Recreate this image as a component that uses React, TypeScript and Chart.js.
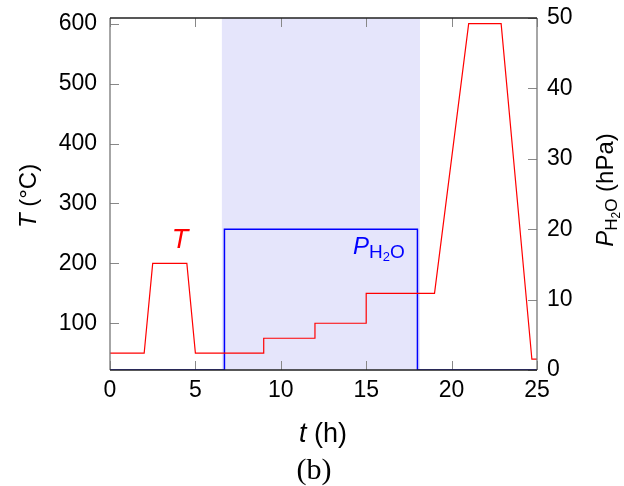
import React, { useEffect, useRef } from "react";
import { Chart, registerables } from "chart.js";

Chart.register(...registerables);

// Temperature profile T (°C) vs time t (h)
const tempTimes = [0, 2, 2.5, 4.5, 5, 9, 9, 12, 12, 15, 15, 19, 21, 22.9, 24.7, 25];
const tempValues = [50, 50, 200, 200, 50, 50, 75, 75, 100, 100, 150, 150, 600, 600, 40, 40];

// Water vapour partial pressure P_H2O (hPa) vs time t (h)
const pressTimes = [0, 6.7, 6.7, 18, 18, 25];
const pressValues = [0, 0, 20, 20, 0, 0];

// Shaded humid interval (h)
const shadeInterval = [6.55, 18.15];

const xTicks = [0, 5, 10, 15, 20, 25];
const leftTicks = [100, 200, 300, 400, 500, 600];
const rightTicks = [0, 10, 20, 30, 40, 50];

const SANS = "'Liberation Sans', Arial, sans-serif";
const SERIF = "'Liberation Serif', 'Times New Roman', serif";

type Seg = { t: string; font: string; dy?: number };

function drawSegs(ctx: CanvasRenderingContext2D, segs: Seg[], x: number, y: number, align: "left" | "center") {
  let total = 0;
  for (const s of segs) {
    ctx.font = s.font;
    total += ctx.measureText(s.t).width;
  }
  let cx = align === "center" ? x - total / 2 : x;
  for (const s of segs) {
    ctx.font = s.font;
    ctx.fillText(s.t, cx, y + (s.dy || 0));
    cx += ctx.measureText(s.t).width;
  }
}

const decorPlugin = {
  id: "decor",
  beforeDatasetsDraw(chart: any) {
    const { ctx, chartArea, scales } = chart;
    const x = scales.x;
    ctx.save();
    ctx.fillStyle = "rgb(229,229,251)";
    const x0 = x.getPixelForValue(shadeInterval[0]);
    const x1 = x.getPixelForValue(shadeInterval[1]);
    ctx.fillRect(x0, chartArea.top, x1 - x0, chartArea.bottom - chartArea.top);

    // ticks
    ctx.strokeStyle = "#888";
    ctx.lineWidth = 1;
    const tl = 9;
    for (const v of xTicks) {
      const px = Math.round(x.getPixelForValue(v)) + 0.5;
      ctx.beginPath();
      ctx.moveTo(px, chartArea.bottom);
      ctx.lineTo(px, chartArea.bottom - tl);
      ctx.moveTo(px, chartArea.top);
      ctx.lineTo(px, chartArea.top + tl);
      ctx.stroke();
    }
    for (const v of leftTicks) {
      const py = Math.round(scales.yT.getPixelForValue(v)) + 0.5;
      ctx.beginPath();
      ctx.moveTo(chartArea.left, py);
      ctx.lineTo(chartArea.left + tl, py);
      ctx.stroke();
    }
    for (const v of rightTicks) {
      const py = Math.round(scales.yP.getPixelForValue(v)) + 0.5;
      ctx.beginPath();
      ctx.moveTo(chartArea.right, py);
      ctx.lineTo(chartArea.right - tl, py);
      ctx.stroke();
    }
    ctx.restore();
  },
  afterDatasetsDraw(chart: any) {
    const { ctx, chartArea } = chart;
    ctx.save();
    // frame
    ctx.lineWidth = 1.3;
    ctx.strokeStyle = "#777";
    ctx.beginPath();
    ctx.moveTo(chartArea.left, chartArea.top);
    ctx.lineTo(chartArea.left, chartArea.bottom);
    ctx.moveTo(chartArea.right, chartArea.top);
    ctx.lineTo(chartArea.right, chartArea.bottom);
    ctx.stroke();
    ctx.strokeStyle = "#222";
    ctx.beginPath();
    ctx.moveTo(chartArea.left, chartArea.top);
    ctx.lineTo(chartArea.right, chartArea.top);
    ctx.moveTo(chartArea.left, chartArea.bottom);
    ctx.lineTo(chartArea.right, chartArea.bottom);
    ctx.stroke();

    ctx.textBaseline = "alphabetic";
    // In-plot labels
    ctx.fillStyle = "#ff0000";
    drawSegs(ctx, [{ t: "T", font: `italic 27px ${SANS}` }], 180, 248, "center");
    ctx.fillStyle = "#0000ff";
    drawSegs(
      ctx,
      [
        { t: "P", font: `italic 24px ${SANS}` },
        { t: "H", font: `19px ${SANS}`, dy: 4 },
        { t: "2", font: `13px ${SANS}`, dy: 7 },
        { t: "O", font: `19px ${SANS}`, dy: 4 },
      ],
      353,
      254,
      "left"
    );

    // axis titles
    ctx.fillStyle = "#000";
    drawSegs(
      ctx,
      [
        { t: "t", font: `italic 27px ${SANS}` },
        { t: " (h)", font: `27px ${SANS}` },
      ],
      323,
      442,
      "center"
    );
    drawSegs(ctx, [{ t: "(b)", font: `30px ${SERIF}` }], 314, 479, "center");

    ctx.save();
    ctx.translate(36, 196);
    ctx.rotate(-Math.PI / 2);
    drawSegs(
      ctx,
      [
        { t: "T", font: `italic 24px ${SANS}` },
        { t: " (°C)", font: `24px ${SANS}` },
      ],
      0,
      0,
      "center"
    );
    ctx.restore();

    ctx.save();
    ctx.translate(613, 190);
    ctx.rotate(-Math.PI / 2);
    drawSegs(
      ctx,
      [
        { t: "P", font: `italic 24px ${SANS}` },
        { t: "H", font: `17px ${SANS}`, dy: 4 },
        { t: "2", font: `12px ${SANS}`, dy: 7 },
        { t: "O", font: `17px ${SANS}`, dy: 4 },
        { t: " (hPa)", font: `24px ${SANS}` },
      ],
      0,
      0,
      "center"
    );
    ctx.restore();
    ctx.restore();
  },
};

export default function App() {
  const ref = useRef<HTMLCanvasElement | null>(null);
  useEffect(() => {
    document.body.style.margin = "0";
    const canvas = ref.current!;
    const tickFont = { family: SANS, size: 23 };
    const fitY = (w: number) => (s: any) => {
      s.width = w;
      s.paddingTop = 0;
      s.paddingBottom = 0;
    };
    const chart = new Chart(canvas, {
      type: "line",
      data: {
        datasets: [
          {
            label: "T",
            data: tempTimes.map((t, i) => ({ x: t, y: tempValues[i] })),
            borderColor: "#ff0000",
            borderWidth: 1.2,
            pointRadius: 0,
            yAxisID: "yT",
            tension: 0,
          },
          {
            label: "P",
            data: pressTimes.map((t, i) => ({ x: t, y: pressValues[i] })),
            borderColor: "#0000ff",
            borderWidth: 1.5,
            pointRadius: 0,
            yAxisID: "yP",
            tension: 0,
          },
        ],
      },
      options: {
        animation: false,
        responsive: false,
        layout: { padding: { top: 18, left: 0, right: 0, bottom: 0 } },
        plugins: { legend: { display: false }, tooltip: { enabled: false } },
        scales: {
          x: {
            type: "linear",
            position: "bottom",
            min: 0,
            max: 25,
            grid: { display: false, drawTicks: false },
            border: { display: false },
            afterBuildTicks: (s: any) => {
              s.ticks = xTicks.map((v) => ({ value: v }));
            },
            afterFit: (s: any) => {
              s.height = 116;
              s.paddingLeft = 0;
              s.paddingRight = 0;
            },
            ticks: { font: tickFont, color: "#000", padding: 7, maxRotation: 0 },
          },
          yT: {
            type: "linear",
            position: "left",
            min: 22,
            max: 609.5,
            grid: { display: false, drawTicks: false },
            border: { display: false },
            afterBuildTicks: (s: any) => {
              s.ticks = leftTicks.map((v) => ({ value: v }));
            },
            afterFit: fitY(110),
            ticks: { font: tickFont, color: "#000", padding: 13 },
          },
          yP: {
            type: "linear",
            position: "right",
            min: 0,
            max: 50,
            grid: { display: false, drawTicks: false },
            border: { display: false },
            afterBuildTicks: (s: any) => {
              s.ticks = rightTicks.map((v) => ({ value: v }));
            },
            afterFit: fitY(87),
            ticks: { font: tickFont, color: "#000", padding: 10 },
          },
        },
      },
      plugins: [decorPlugin],
    });
    return () => chart.destroy();
  }, []);
  return (
    <div style={{ width: 624, height: 486 }}>
      <canvas ref={ref} width={624} height={486} style={{ display: "block" }} />
    </div>
  );
}
